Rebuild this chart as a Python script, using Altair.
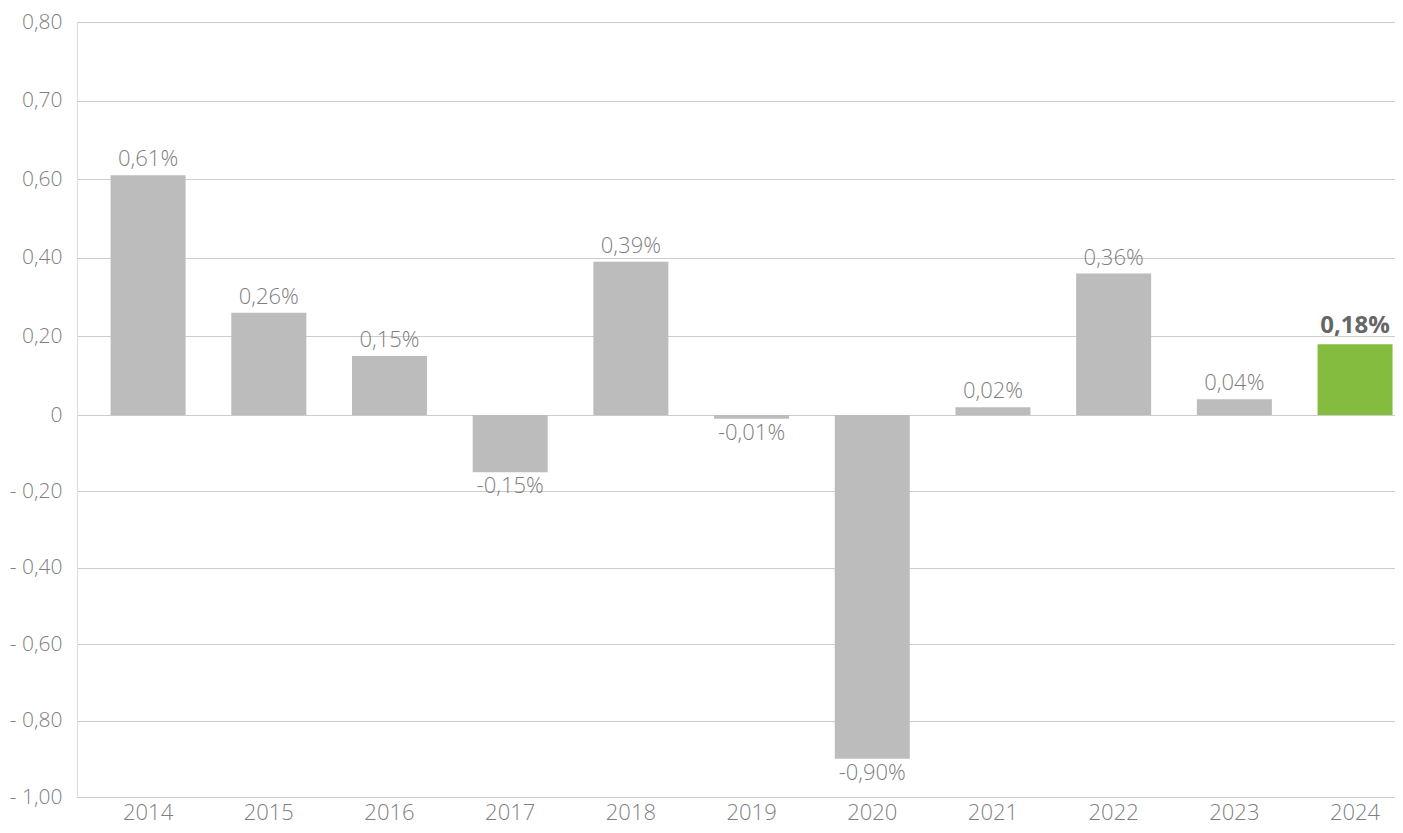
import altair as alt
import pandas as pd

years = ["2014", "2015", "2016", "2017", "2018", "2019", "2020", "2021", "2022", "2023", "2024"]
values = [0.61, 0.26, 0.15, -0.15, 0.39, -0.01, -0.90, 0.02, 0.36, 0.04, 0.18]
highlight_year = "2024"

ytick_values = [1.0, 0.8, 0.6, 0.4, 0.2, 0.0, -0.2, -0.4, -0.6, -0.8, -1.0]
ytick_labels = ["0,80", "0,70", "0,60", "0,40", "0,20", "0", "- 0,20", "- 0,40", "- 0,60", "- 0,80", "- 1,00"]

df = pd.DataFrame({"year": years, "value": values})
df["label"] = [f"{v:.2f}".replace(".", ",") + "%" for v in values]
df["hl"] = df["year"] == highlight_year

label_expr = ""
for v, l in zip(ytick_values, ytick_labels):
    label_expr += f"abs(datum.value - ({v})) < 1e-6 ? '{l}' : "
label_expr += "''"

FONT = "Open Sans"
GREY_TXT = "#7f7f7f"
H = 775
W = 1318

x = alt.X("year:N", sort=years, title=None,
          scale=alt.Scale(paddingInner=0.38, paddingOuter=0.15, align=0.93),
          axis=alt.Axis(labelAngle=0, labelFont=FONT, labelFontSize=22, labelColor=GREY_TXT,
                        labelFontWeight=300, ticks=False, domain=False, labelPadding=5, grid=False))
y = alt.Y("value:Q", title=None,
          scale=alt.Scale(domain=[-1, 0, 1], range=[H, 393, 0], nice=False, zero=True),
          axis=alt.Axis(values=ytick_values, labelExpr=label_expr, labelFont=FONT, labelFontSize=21,
                        labelColor=GREY_TXT, labelFontWeight=300, ticks=False, domain=False,
                        labelPadding=15, grid=True, gridColor="#cccccc", gridWidth=1.2))

base = alt.Chart(df)

bars = base.mark_bar(size=75).encode(
    x=x, y=y,
    color=alt.condition(alt.datum.hl, alt.value("#84bc3f"), alt.value("#bbbcbb")),
)

pos_labels = base.transform_filter("datum.value >= 0 && !datum.hl").mark_text(
    baseline="bottom", dy=-4, font=FONT, fontSize=22, fontWeight=300, color=GREY_TXT
).encode(x=alt.X("year:N", sort=years), y="value:Q", text="label:N")

neg_labels = base.transform_filter("datum.value < 0").mark_text(
    baseline="top", dy=4, font=FONT, fontSize=22, fontWeight=300, color=GREY_TXT
).encode(x=alt.X("year:N", sort=years), y="value:Q", text="label:N")

hl_labels = base.transform_filter("datum.hl").mark_text(
    baseline="bottom", dy=-6, font=FONT, fontSize=24, fontWeight="bold", color="#666666"
).encode(x=alt.X("year:N", sort=years), y="value:Q", text="label:N")

chart = alt.layer(bars, pos_labels, neg_labels, hl_labels).properties(
    width=W, height=H,
    autosize=alt.AutoSizeParams(type="none"),
    padding={"left": 69, "top": 14, "right": 0, "bottom": 28},
).configure_view(stroke=None).configure(background="white")

chart.save("out.html", embed_options={"renderer": "svg", "actions": False})
